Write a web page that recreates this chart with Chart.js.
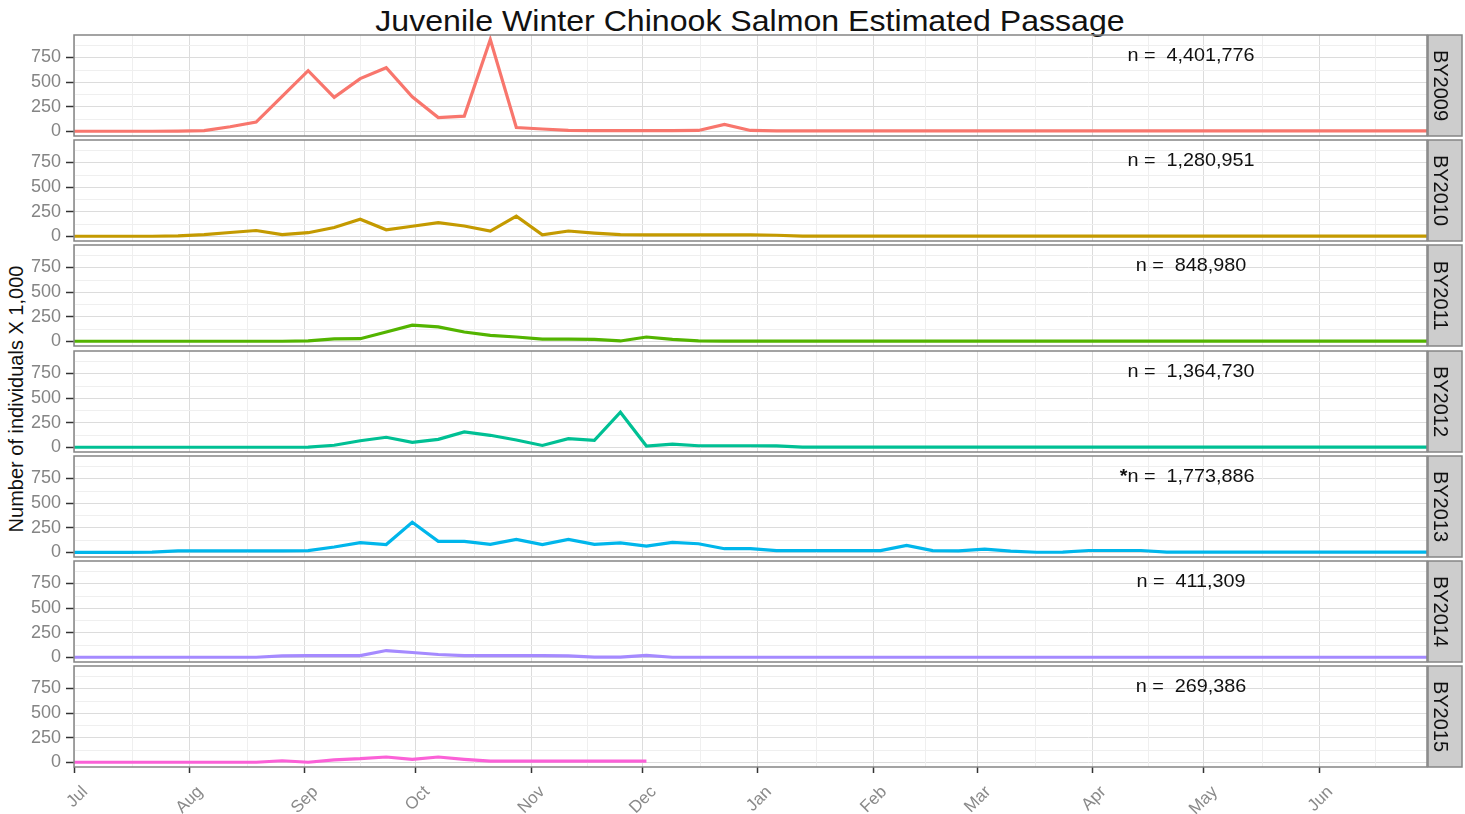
<!DOCTYPE html>
<html>
<head>
<meta charset="utf-8">
<script src="https://cdn.jsdelivr.net/npm/chart.js@4.4.1/dist/chart.umd.min.js"></script>
<style>
  body { margin: 0; background: #fff; }
  #wrap { position: relative; width: 1465px; height: 814px; overflow: hidden; font-family: "Liberation Sans", Arial, sans-serif; }
  #wrap canvas { position: absolute; left: 0; }
  #title { position: absolute; left: 750px; top: 6px; transform: translateX(-50%) scaleX(1.07); font-size: 30px; line-height: 30px; white-space: nowrap; color: #111; }
  #ytitle { position: absolute; left: 16px; top: 399px; transform: translate(-50%, -50%) rotate(-90deg); font-size: 20px; line-height: 20px; white-space: nowrap; color: #111; }
</style>
</head>
<body>
<div id="wrap">
  <div id="title">Juvenile Winter Chinook Salmon Estimated Passage</div>
  <div id="ytitle">Number of individuals X 1,000</div>
</div>
<script>
const years = ['BY2009', 'BY2010', 'BY2011', 'BY2012', 'BY2013', 'BY2014', 'BY2015'];
const colors = ['#F8766D', '#C49A00', '#53B400', '#00C094', '#00B6EB', '#A58AFF', '#FB61D7'];
const nLabels = ['n =  4,401,776', 'n =  1,280,951', 'n =  848,980', 'n =  1,364,730', 'n =  1,773,886', 'n =  411,309', 'n =  269,386'];
const nPrefix = ['', '', '', '', '*', '', ''];

// days since Jul 1 (weekly)
const weekDays = [0, 7, 14, 21, 28, 35, 42, 49, 56, 63, 70, 77, 84, 91, 98, 105, 112, 119, 126, 133,
  140, 147, 154, 161, 168, 175, 182, 189, 196, 203, 210, 217, 224, 231, 238, 245, 252, 259, 266, 273,
  280, 287, 294, 301, 308, 315, 322, 329, 336, 343, 350, 357, 364];
const monthDays = [0, 31, 62, 92, 123, 153, 184, 215, 243, 274, 304, 335];
const monthLabels = ['Jul', 'Aug', 'Sep', 'Oct', 'Nov', 'Dec', 'Jan', 'Feb', 'Mar', 'Apr', 'May', 'Jun'];
const minorDays = [15.5, 46.5, 77, 107.5, 138, 168.5, 199.5, 229, 258.5, 289, 319.5, 350];
const yMajor = [0, 250, 500, 750];
const yMinor = [125, 375, 625, 875];

// passage, thousands of fish
const by2009 = [2, 2, 2, 2, 3, 8, 48, 95, 355, 615, 345, 535, 645, 350, 140, 155, 930, 40, 25, 10,
  8, 8, 8, 8, 10, 72, 10, 5, 5, 5, 5, 5, 5, 5, 5, 5, 5, 5, 5, 5, 5, 5, 5, 5, 5, 5, 5, 5, 5, 5, 5, 5, 5];
const by2010 = [2, 2, 2, 2, 5, 18, 40, 60, 18, 38, 90, 175, 68, 103, 140, 106, 55, 205, 17, 55,
  34, 18, 15, 15, 15, 15, 15, 12, 3, 3, 3, 3, 3, 3, 3, 3, 3, 3, 3, 3, 3, 3, 3, 3, 3, 3, 3, 3, 3, 3, 3, 3, 3];
const by2011 = [2, 2, 2, 2, 2, 2, 2, 2, 2, 5, 27, 28, 95, 165, 148, 96, 62, 45, 24, 24,
  22, 5, 45, 22, 5, 3, 3, 3, 3, 3, 3, 3, 3, 3, 3, 3, 3, 3, 3, 3, 3, 3, 3, 3, 3, 3, 3, 3, 3, 3, 3, 3, 3];
const by2012 = [2, 2, 2, 2, 2, 2, 2, 2, 2, 4, 22, 68, 103, 51, 82, 158, 123, 75, 20, 89,
  72, 356, 14, 34, 17, 17, 17, 15, 3, 3, 3, 3, 3, 3, 3, 3, 3, 3, 3, 3, 3, 3, 3, 3, 3, 3, 3, 3, 3, 3, 3, 3, 3];
const by2013 = [0, 0, 0, 3, 15, 15, 15, 15, 15, 18, 55, 100, 80, 305, 112, 112, 82, 132, 80, 132,
  82, 96, 65, 102, 88, 38, 38, 18, 18, 18, 18, 18, 72, 18, 16, 34, 14, 2, 3, 20,
  20, 20, 4, 3, 3, 3, 3, 3, 3, 3, 3, 3, 3];
const by2014 = [2, 2, 2, 2, 2, 2, 2, 2, 15, 18, 18, 18, 70, 50, 30, 18, 18, 18, 18, 16,
  3, 3, 22, 2, 2, 2, 2, 2, 2, 2, 2, 2, 2, 2, 2, 2, 2, 2, 2, 2, 2, 2, 2, 2, 2, 2, 2, 2, 2, 2, 2, 2, 2];
const by2015 = [2, 2, 2, 2, 2, 2, 2, 2, 17, 2, 27, 38, 55, 32, 55, 32, 14, 14, 14, 14, 14, 14, 14];
const series = [by2009, by2010, by2011, by2012, by2013, by2014, by2015];

const PANEL_TOP = 35;
const PANEL_STEP = 105.2;
const PANEL_H = 101;
const PLOT_LEFT = 74;
const PLOT_RIGHT = 1427;
const PAD = 12;
const XAXIS_H = 48;
const LABEL_DAY = 300.5;

Chart.defaults.font.family = '"Liberation Sans", Arial, sans-serif';

const panelDeco = {
  id: 'panelDeco',
  beforeDatasetsDraw(chart) {
    const { ctx, chartArea: a, scales: { x, y } } = chart;
    ctx.save();
    ctx.strokeStyle = '#EFEFEF';
    ctx.lineWidth = 1;
    ctx.beginPath();
    minorDays.forEach(d => {
      const px = Math.round(x.getPixelForValue(d)) + 0.5;
      ctx.moveTo(px, a.top);
      ctx.lineTo(px, a.bottom);
    });
    yMinor.forEach(v => {
      const py = Math.round(y.getPixelForValue(v)) + 0.5;
      ctx.moveTo(a.left, py);
      ctx.lineTo(a.right, py);
    });
    ctx.stroke();
    ctx.restore();
  },
  afterDraw(chart, args, opts) {
    const { ctx, chartArea: a, scales: { x } } = chart;
    ctx.save();
    ctx.strokeStyle = '#858585';
    ctx.lineWidth = 1.5;
    ctx.strokeRect(a.left, a.top, a.right - a.left, a.bottom - a.top);

    // facet strip
    const sx = a.right + 1;
    ctx.fillStyle = '#CDCDCD';
    ctx.fillRect(sx, a.top, 34, a.bottom - a.top);
    ctx.strokeRect(sx, a.top, 34, a.bottom - a.top);
    ctx.save();
    ctx.translate(sx + 12, (a.top + a.bottom) / 2);
    ctx.rotate(Math.PI / 2);
    ctx.fillStyle = '#111';
    ctx.font = '20px "Liberation Sans", Arial, sans-serif';
    ctx.textAlign = 'center';
    ctx.textBaseline = 'middle';
    ctx.fillText(opts.year, 0, 0);
    ctx.restore();

    // n label
    const cx = x.getPixelForValue(LABEL_DAY);
    const cy = a.top + 21;
    ctx.translate(cx, cy);
    ctx.scale(1.07, 1);
    ctx.fillStyle = '#111';
    ctx.font = '18.5px "Liberation Sans", Arial, sans-serif';
    ctx.textBaseline = 'middle';
    ctx.textAlign = 'center';
    ctx.fillText(opts.label, 0, 0);
    if (opts.prefix) {
      const w = ctx.measureText(opts.label).width;
      ctx.font = 'bold 18.5px "Liberation Sans", Arial, sans-serif';
      ctx.textAlign = 'right';
      ctx.fillText(opts.prefix, -w / 2, 0);
    }
    ctx.restore();
  }
};

const wrap = document.getElementById('wrap');

years.forEach((year, i) => {
  const last = i === years.length - 1;
  const top = Math.round(PANEL_TOP + i * PANEL_STEP);
  const canvas = document.createElement('canvas');
  canvas.width = 1465;
  canvas.height = PAD + PANEL_H + (last ? XAXIS_H : PAD);
  canvas.style.top = (top - PAD) + 'px';
  wrap.appendChild(canvas);

  new Chart(canvas, {
    type: 'line',
    data: {
      datasets: [{
        data: series[i].map((v, k) => ({ x: weekDays[k], y: v })),
        borderColor: colors[i],
        borderWidth: 3.2,
        pointRadius: 0,
        tension: 0,
        fill: false
      }]
    },
    options: {
      responsive: false,
      animation: false,
      devicePixelRatio: 1,
      layout: { padding: { left: 0, right: 1465 - PLOT_RIGHT, top: PAD, bottom: last ? 0 : PAD } },
      plugins: {
        legend: { display: false },
        tooltip: { enabled: false },
        panelDeco: { year: year, label: nLabels[i], prefix: nPrefix[i] }
      },
      scales: {
        x: {
          type: 'linear',
          min: 0,
          max: 364,
          afterBuildTicks: s => { s.ticks = monthDays.map(v => ({ value: v })); },
          afterFit: s => { s.height = last ? XAXIS_H : 0; s.paddingLeft = 0; s.paddingRight = 0; },
          ticks: {
            display: last,
            autoSkip: false,
            minRotation: 45,
            maxRotation: 45,
            padding: 9,
            labelOffset: 11,
            color: '#8A8A8A',
            font: { size: 17 },
            callback: v => monthLabels[monthDays.indexOf(v)]
          },
          grid: { color: '#DCDCDC', lineWidth: 1, drawTicks: last, tickLength: 6, tickColor: '#333', tickWidth: 1.5 },
          border: { display: false }
        },
        y: {
          min: -46,
          max: 976,
          afterBuildTicks: s => { s.ticks = yMajor.map(v => ({ value: v })); },
          afterFit: s => { s.width = PLOT_LEFT; s.paddingTop = 0; s.paddingBottom = 0; },
          ticks: { color: '#858585', font: { size: 18 }, padding: 5 },
          grid: { color: '#DCDCDC', lineWidth: 1, tickLength: 8, tickColor: '#333', tickWidth: 1.5 },
          border: { display: false }
        }
      }
    },
    plugins: [panelDeco]
  });
});
</script>
</body>
</html>
